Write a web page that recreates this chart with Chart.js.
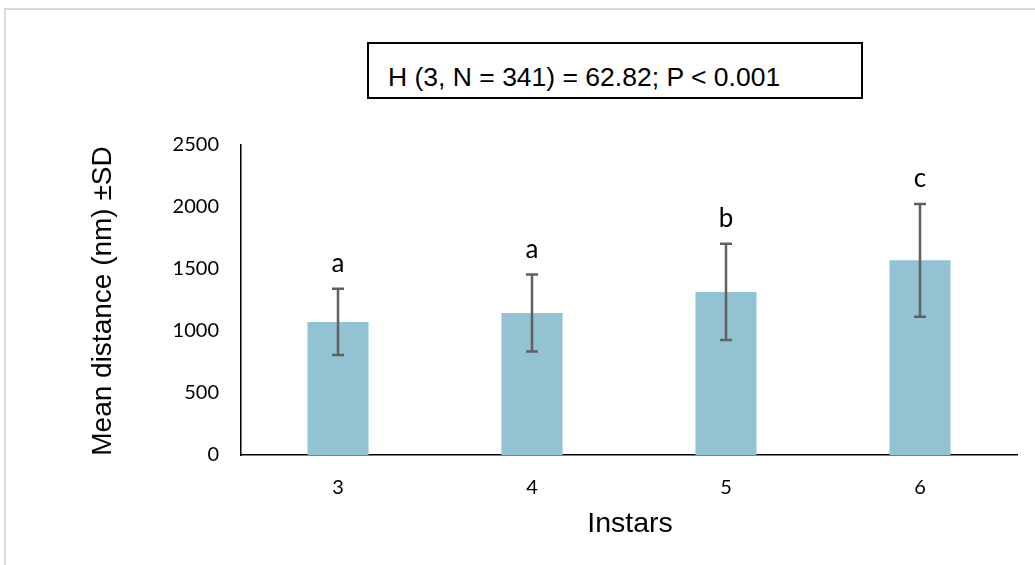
<!DOCTYPE html>
<html>
<head>
<meta charset="utf-8">
<script src="https://cdn.jsdelivr.net/npm/chart.js@4"></script>
<style>
  html, body { margin: 0; padding: 0; background: #fff; }
  #quadro { position: absolute; left: 4px; top: 8px; right: 0; bottom: 0; border-top: 2px solid #d9d9d9; border-left: 2px solid #d9d9d9; }
  #wrap { position: absolute; left: 0; top: 0; width: 1035px; height: 565px; }
  #caixa-stat { position: absolute; left: 367px; top: 42px; width: 492px; height: 53px; border: 2px solid #000; background: #fff;
    font-family: "Liberation Sans", Arial, sans-serif; font-size: 26.5px; color: #000; box-sizing: content-box; }
  #caixa-stat span { position: absolute; left: 19px; top: 18px; line-height: 30px; white-space: nowrap; }
</style>
</head>
<body>
<div id="quadro"></div>
<div id="wrap"><canvas id="grafico-instars" width="1035" height="565"></canvas></div>
<div id="caixa-stat"><span>H (3, N = 341) = 62.82; P &lt; 0.001</span></div>
<script>
// valores
const instars = ["3", "4", "5", "6"];
const meanDist = [1073, 1145, 1315, 1570];
const sdDist = [267, 310, 388, 455];
const groupLetters = ["a", "a", "b", "c"];
const yTicks = [0, 500, 1000, 1500, 2000, 2500];

// barras de erro + letras de significancia
const errorBarsPlugin = {
    id: "errorBars",
    afterDatasetsDraw(chart) {
        const ctx = chart.ctx;
        const y = chart.scales.y;
        const meta = chart.getDatasetMeta(0);
        ctx.save();
        meta.data.forEach((bar, i) => {
            const top = y.getPixelForValue(meanDist[i] + sdDist[i]);
            const bottom = y.getPixelForValue(meanDist[i] - sdDist[i]);
            ctx.strokeStyle = "#606060";
            ctx.lineWidth = 2.5;
            ctx.beginPath();
            ctx.moveTo(bar.x, top);
            ctx.lineTo(bar.x, bottom);
            ctx.moveTo(bar.x - 6, top);
            ctx.lineTo(bar.x + 6, top);
            ctx.moveTo(bar.x - 6, bottom);
            ctx.lineTo(bar.x + 6, bottom);
            ctx.stroke();

            ctx.fillStyle = "#000";
            ctx.font = "26px Lato, 'Open Sans', sans-serif";
            ctx.textAlign = "center";
            ctx.textBaseline = "alphabetic";
            ctx.fillText(groupLetters[i], bar.x, top - 17);
        });

        // titulos dos eixos
        const area = chart.chartArea;
        ctx.fillStyle = "#000";
        ctx.font = "28.5px 'Liberation Sans', Arial, sans-serif";
        ctx.textAlign = "center";
        ctx.textBaseline = "middle";
        ctx.fillText("Instars", 630, 524);
        ctx.font = "28px 'Liberation Sans', Arial, sans-serif";
        ctx.translate(103, 301);
        ctx.rotate(-Math.PI / 2);
        ctx.fillText("Mean distance (nm) \u00b1SD", 0, 0);
        ctx.restore();
    }
};

const tickFont = { family: "Lato, 'Open Sans', sans-serif", size: 20 };

const ctx = document.getElementById("grafico-instars").getContext("2d");
new Chart(ctx, {
    type: "bar",
    data: {
        labels: instars,
        datasets: [{
            data: meanDist,
            backgroundColor: "#93c3d3",
            borderWidth: 0,
            categoryPercentage: 1.0,
            barPercentage: 0.315
        }]
    },
    options: {
        responsive: false,
        animation: false,
        layout: { padding: { left: 0, top: 145, right: 18, bottom: 0 } },
        plugins: { legend: { display: false }, tooltip: { enabled: false } },
        scales: {
            x: {
                grid: { display: false, drawTicks: false },
                border: { color: "#000", width: 1.5 },
                ticks: { color: "#000", font: tickFont, padding: 21 },
                afterFit(scale) { scale.height = 110; }
            },
            y: {
                min: 0,
                max: 2500,
                afterBuildTicks(scale) { scale.ticks = yTicks.map(v => ({ value: v })); },
                grid: { display: false, drawTicks: false },
                border: { color: "#000", width: 1.5 },
                ticks: { color: "#000", font: tickFont, padding: 22, callback: v => String(v) },
                afterFit(scale) { scale.width = 241; }
            }
        }
    },
    plugins: [errorBarsPlugin]
});
</script>
</body>
</html>
